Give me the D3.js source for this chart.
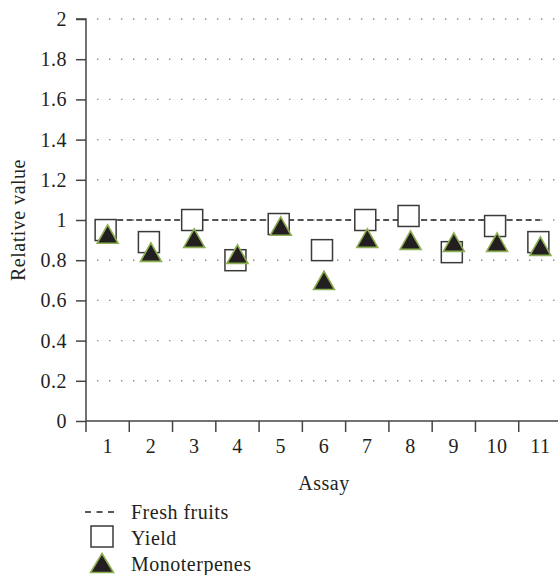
<!DOCTYPE html>
<html>
<head>
<meta charset="utf-8">
<script src="https://cdn.jsdelivr.net/npm/d3@7"></script>
<style>
  body { margin: 0; background: #fff; }
  svg { display: block; }
  text { font-family: "Liberation Serif", "DejaVu Serif", serif; fill: #231f20; letter-spacing: 0.5px; }
</style>
</head>
<body>
<svg id="chart" width="558" height="575"></svg>
<script>
const assays = ["1","2","3","4","5","6","7","8","9","10","11"];
const yieldValues = [0.95, 0.89, 1.00, 0.80, 0.98, 0.85, 1.00, 1.02, 0.84, 0.97, 0.89];
const monoterpeneValues = [0.93, 0.84, 0.91, 0.83, 0.97, 0.70, 0.91, 0.90, 0.89, 0.89, 0.87];
const freshFruitValues = [1, 1, 1, 1, 1, 1, 1, 1, 1, 1, 1];
const yTicks = [0, 0.2, 0.4, 0.6, 0.8, 1, 1.2, 1.4, 1.6, 1.8, 2];
const labels = { x: "Assay", y: "Relative value", fresh: "Fresh fruits", yield: "Yield", mono: "Monoterpenes" };

(function () {
const svg = d3.select("#chart");
const mL = 86, mT = 19, mB = 421, mR = 562;
const x = d3.scaleBand().domain(assays).range([mL, mR]);
const y = d3.scaleLinear().domain([0, 2]).range([mB, mT]);
const fs = 20;

// gridlines (dotted)
svg.append("g").selectAll("line").data(yTicks.filter(d => d > 0))
  .join("line")
  .attr("x1", mL + 11).attr("x2", 556)
  .attr("y1", d => y(d)).attr("y2", d => y(d))
  .attr("stroke", "#8a8a8a").attr("stroke-width", 1.4)
  .attr("stroke-dasharray", "1.4,10.6");

// Y axis
const yAxis = d3.axisLeft(y).tickValues(yTicks).tickSize(10).tickPadding(9)
  .tickFormat(d => d3.format("~g")(d));
const gy = svg.append("g").attr("transform", `translate(${mL},0)`).call(yAxis);
gy.select(".domain").attr("stroke", "#444").attr("stroke-width", 1.5).attr("d", `M-10,${mT}H0V${mB}`);
gy.selectAll(".tick line").attr("stroke", "#444").attr("stroke-width", 1.5);
gy.selectAll(".tick text").attr("font-size", fs).attr("font-family", "Liberation Serif").attr("fill", "#231f20");

// X axis
const xAxis = d3.axisBottom(x).tickSize(0).tickPadding(18);
const gx = svg.append("g").attr("transform", `translate(0,${mB})`).call(xAxis);
gx.select(".domain").attr("stroke", "#444").attr("stroke-width", 1.5).attr("d", `M${mL},0H${mR}`);
gx.selectAll(".tick text").attr("font-size", fs).attr("font-family", "Liberation Serif").attr("fill", "#231f20");
// tick marks at band boundaries
svg.append("g").selectAll("line").data(assays)
  .join("line")
  .attr("x1", d => x(d)).attr("x2", d => x(d))
  .attr("y1", mB).attr("y2", mB + 11)
  .attr("stroke", "#444").attr("stroke-width", 1.5);

// Fresh fruits dashed line
const cx = d => x(d) + x.bandwidth() / 2;
svg.append("path")
  .datum(assays.map((a, i) => [cx(a), y(freshFruitValues[i])]))
  .attr("d", d3.line())
  .attr("fill", "none").attr("stroke", "#231f20").attr("stroke-width", 1.3)
  .attr("stroke-dasharray", "6,3.5");

// Yield squares
const sq = 21;
svg.append("g").selectAll("rect").data(assays)
  .join("rect")
  .attr("x", d => cx(d) - 2 - sq / 2)
  .attr("y", (d, i) => y(yieldValues[i]) - sq / 2)
  .attr("width", sq).attr("height", sq)
  .attr("fill", "#fff").attr("stroke", "#3a3a3a").attr("stroke-width", 1.5);

// Monoterpenes triangles
const triW = 21, triH = 18.5;
const triPath = (w, h) => `M0,${-h/2}L${w/2},${h/2}L${-w/2},${h/2}Z`;
svg.append("g").selectAll("path").data(assays)
  .join("path")
  .attr("transform", (d, i) => `translate(${cx(d)},${y(monoterpeneValues[i])})`)
  .attr("d", triPath(triW, triH))
  .attr("fill", "#231f20").attr("stroke", "#8cae52").attr("stroke-width", 1.6)
  .attr("stroke-linejoin", "miter");

// Axis titles
svg.append("text").attr("x", 324).attr("y", 490)
  .attr("text-anchor", "middle").attr("font-size", fs).text(labels.x);
svg.append("text").attr("transform", `translate(25,${(mT + mB) / 2}) rotate(-90)`)
  .attr("text-anchor", "middle").attr("font-size", fs).text(labels.y);

// Legend
const lg = svg.append("g");
lg.append("line").attr("x1", 85).attr("x2", 118).attr("y1", 512).attr("y2", 512)
  .attr("stroke", "#231f20").attr("stroke-width", 1.3).attr("stroke-dasharray", "6,5.5");
lg.append("text").attr("x", 131).attr("y", 519).attr("font-size", fs).text(labels.fresh);
lg.append("rect").attr("x", 91).attr("y", 526).attr("width", 22).attr("height", 21)
  .attr("fill", "#fff").attr("stroke", "#3a3a3a").attr("stroke-width", 1.5);
lg.append("text").attr("x", 131).attr("y", 545).attr("font-size", fs).text(labels.yield);
lg.append("path").attr("transform", "translate(102,563)").attr("d", triPath(23, 19))
  .attr("fill", "#231f20").attr("stroke", "#8cae52").attr("stroke-width", 1.6);
lg.append("text").attr("x", 131).attr("y", 571).attr("font-size", fs).text(labels.mono);
})();
</script>
</body>
</html>
